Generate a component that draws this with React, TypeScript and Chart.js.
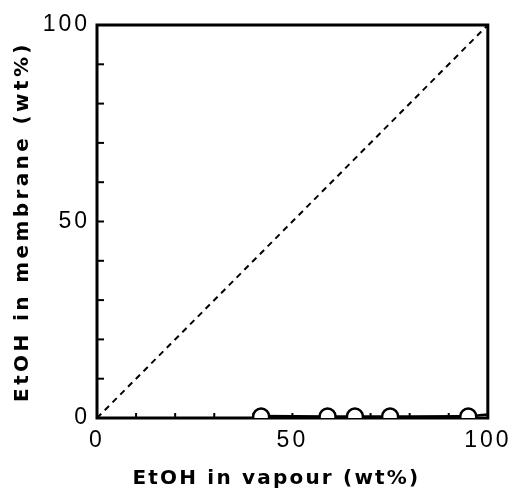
import React, { useEffect, useRef } from 'react';
import { Chart, registerables } from 'chart.js';

Chart.register(...registerables);

// Measured points (open circles)
const vapourPts = [42, 59, 66, 75, 95];
const membranePts = [0.4, 0.4, 0.4, 0.4, 0.4];
// Fitted curve along the bottom
const fitX = [42, 59, 66, 75, 95, 100];
const fitY = [0.5, 0.4, 0.4, 0.4, 0.5, 0.9];
// Diagonal y = x reference line
const diagX = [0, 100];
const diagY = [0, 100];
// Axis ticks
const majorTicks = [0, 50, 100];
const minorStep = 10;
const xTitle = 'EtOH in vapour (wt%)';
const yTitle = 'EtOH in membrane (wt%)';

const framePlugin = {
  id: 'frameAndTicks',
  beforeDraw(chart: any) {
    chart.ctx.letterSpacing = '3px';
  },
  beforeDatasetsDraw(chart: any) {
    const { ctx, chartArea: a } = chart;
    const xs = chart.scales.x;
    const ys = chart.scales.y;
    ctx.save();
    ctx.letterSpacing = '0px';
    ctx.strokeStyle = '#000';
    ctx.lineWidth = 2;
    for (let v = xs.min + minorStep; v < xs.max; v += minorStep) {
      const px = xs.getPixelForValue(v);
      ctx.beginPath();
      ctx.moveTo(px, a.bottom);
      ctx.lineTo(px, a.bottom - 5);
      ctx.stroke();
    }
    for (let v = ys.min + minorStep; v < ys.max; v += minorStep) {
      const py = ys.getPixelForValue(v);
      ctx.beginPath();
      ctx.moveTo(a.left, py);
      ctx.lineTo(a.left + 7, py);
      ctx.stroke();
    }
    ctx.lineWidth = 3;
    ctx.strokeRect(a.left, a.top, a.right - a.left, a.bottom - a.top);
    ctx.restore();
  },
  afterDraw(chart: any) {
    const { ctx, chartArea: a } = chart;
    ctx.save();
    ctx.fillStyle = '#000';
    ctx.font = 'bold 20px "DejaVu Sans"';
    ctx.textAlign = 'center';
    ctx.textBaseline = 'middle';
    ctx.letterSpacing = '2.2px';
    ctx.fillText(xTitle, (a.left + a.right) / 2 - 16, a.bottom + 61);
    ctx.translate(23, (a.top + a.bottom) / 2);
    ctx.rotate(-Math.PI / 2);
    ctx.letterSpacing = '3.4px';
    ctx.fillText(yTitle, 0, 0);
    ctx.restore();
  },
};

export default function App() {
  const ref = useRef<HTMLCanvasElement | null>(null);
  useEffect(() => {
    if (!ref.current) return;
    const chart = new Chart(ref.current, {
      type: 'scatter',
      data: {
        datasets: [
          {
            type: 'scatter',
            data: vapourPts.map((x, i) => ({ x, y: membranePts[i] })),
            pointRadius: 8,
            pointHoverRadius: 8,
            pointBorderWidth: 2.5,
            borderColor: '#000',
            backgroundColor: '#fff',
            clip: 0,
          } as any,
          {
            type: 'line',
            data: fitX.map((x, i) => ({ x, y: fitY[i] })),
            borderColor: '#000',
            borderWidth: 2.5,
            pointRadius: 0,
            tension: 0.3,
            fill: false,
            clip: 0,
          } as any,
          {
            type: 'line',
            data: diagX.map((x, i) => ({ x, y: diagY[i] })),
            borderColor: '#000',
            borderWidth: 2,
            borderDash: [6, 5],
            pointRadius: 0,
            fill: false,
          } as any,
        ],
      },
      options: {
        responsive: false,
        animation: false,
        layout: { padding: { top: 25, right: 25, left: 0, bottom: 0 } },
        plugins: {
          legend: { display: false },
          tooltip: { enabled: false },
          title: { display: false },
        },
        scales: {
          x: {
            type: 'linear',
            min: 0,
            max: 100,
            afterBuildTicks: (s: any) => {
              s.ticks = majorTicks.map((v) => ({ value: v }));
            },
            afterFit: (s: any) => {
              s.height = 77;
            },
            grid: { display: false, drawTicks: false, tickLength: 0 },
            border: { display: false },
            ticks: {
              color: '#000',
              padding: 9,
              maxRotation: 0,
              autoSkip: false,
              font: { family: '"Liberation Sans"', size: 23 },
            },
          },
          y: {
            type: 'linear',
            min: 0,
            max: 100,
            afterBuildTicks: (s: any) => {
              s.ticks = majorTicks.map((v) => ({ value: v }));
            },
            afterFit: (s: any) => {
              s.width = 97;
            },
            grid: { display: false, drawTicks: false, tickLength: 0 },
            border: { display: false },
            ticks: {
              color: '#000',
              padding: 7,
              autoSkip: false,
              font: { family: '"Liberation Sans"', size: 23 },
            },
          },
        },
      },
      plugins: [framePlugin],
    });
    return () => chart.destroy();
  }, []);
  return (
    <div style={{ position: 'fixed', left: 0, top: 0, width: 516, height: 495, background: '#fff' }}>
      <canvas ref={ref} width={516} height={495} style={{ display: 'block' }} />
    </div>
  );
}
